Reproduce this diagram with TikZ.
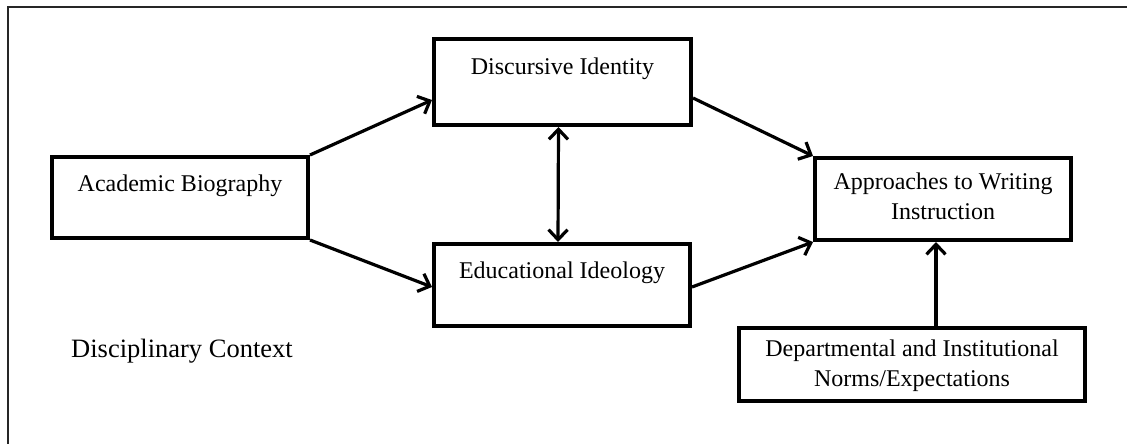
\documentclass[tikz,border=0pt]{standalone}
\usepackage{fontspec}
\setmainfont{Liberation Serif}
\usetikzlibrary{arrows.meta}
\begin{document}
\begin{tikzpicture}[x=1pt,y=-1pt,
  boxnode/.style={draw, line width=4pt, inner sep=0pt},
  lbl/.style={font=\fontsize{24}{30}\selectfont, align=center, inner sep=0pt},
  tip/.style={Straight Barb[length=10pt,width=19pt,line width=3.2pt]},
  conn/.style={line width=3.2pt, -{Straight Barb[length=10pt,width=19pt,line width=3.2pt]}},
  frameline/.style={line width=1.4pt, draw=black!85}
]
\useasboundingbox (0,0) rectangle (1127,444);
\coordinate (fb) at (8,444);
\coordinate (fc) at (8,7);
\coordinate (fr) at (1127,7);
\draw[frameline] (fb) -- (fc) -- (fr);

\node[boxnode, minimum width=256pt, minimum height=81pt] (ab) at (180,197.5) {};
\node[boxnode, minimum width=257pt, minimum height=86pt] (di) at (562.5,82) {};
\node[boxnode, minimum width=256pt, minimum height=82pt] (ei) at (562,285) {};
\node[boxnode, minimum width=256pt, minimum height=82pt] (ap) at (943,199) {};
\node[boxnode, minimum width=346pt, minimum height=73pt] (de) at (912,364.5) {};

\node[lbl] (abt) at (180,186) {Academic Biography};
\node[lbl] (dit) at (562.5,69) {Discursive Identity};
\node[lbl] (eit) at (562,273) {Educational Ideology};
\node[lbl] (apt) at (943,196) {Approaches to Writing\\Instruction};
\node[lbl] (det) at (912,366) {Departmental and Institutional\\Norms/Expectations};
\node[lbl, font=\fontsize{26.5}{32}\selectfont] (dc) at (182,351) {Disciplinary Context};

\draw[conn] (ab.north east) -- ([yshift=-18pt]di.west);
\draw[conn] (ab.south east) -- ([yshift=-2pt]ei.west);
\draw[conn] ([yshift=-16pt]di.east) -- (ap.north west);
\draw[conn] ([yshift=-2pt]ei.east) -- (ap.south west);
\draw[line width=3.2pt, {Straight Barb[length=10pt,width=19pt,line width=3.2pt]}-{Straight Barb[length=10pt,width=19pt,line width=3.2pt]}] ([xshift=-4pt]di.south) -- ([xshift=-4pt]ei.north);
\draw[conn] ([xshift=24pt]de.north) -- ([xshift=-7pt]ap.south);
\end{tikzpicture}
\end{document}
